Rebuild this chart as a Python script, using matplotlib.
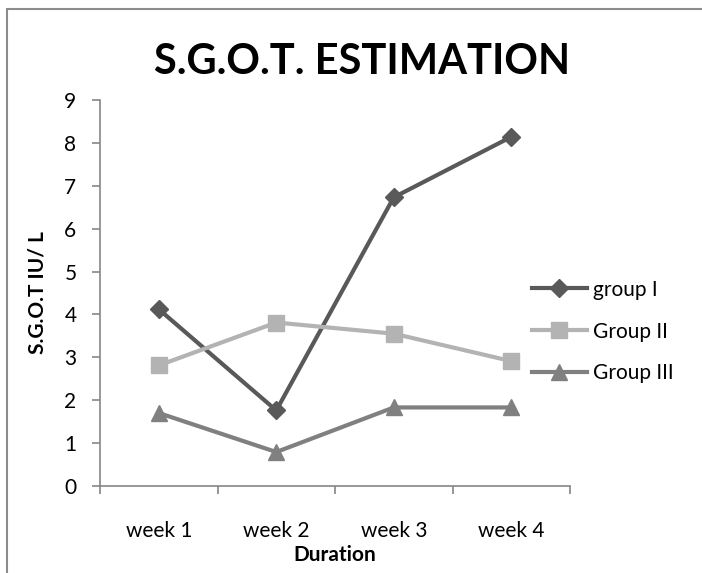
import matplotlib.pyplot as plt
from matplotlib.patches import Rectangle

plt.rcParams.update({"font.family": ["Lato", "DejaVu Sans"], "font.size": 15})

weeks = ["week 1", "week 2", "week 3", "week 4"]
group_1 = [4.12, 1.76, 6.73, 8.14]
group_2 = [2.81, 3.81, 3.55, 2.91]
group_3 = [1.70, 0.79, 1.83, 1.83]

fig = plt.figure(figsize=(7.02, 5.73), dpi=100)
ax = fig.add_axes([0.1425, 0.152, 0.6695, 0.6735])

# outer chart border
fig.patches.append(Rectangle((7 / 702, -0.1), 1.1, 1.1 - 9 / 573, transform=fig.transFigure,
                             fill=False, ec="#8c8c8c", lw=1.5))

x = [i + 0.5 for i in range(len(weeks))]
ax.plot(x, group_1, "-D", color="#595959", lw=3, ms=9, label="group I")
ax.plot(x, group_2, "-s", color="#b3b3b3", lw=3, ms=11, label="Group II")
ax.plot(x, group_3, "-^", color="#808080", lw=3, ms=12, label="Group III")

ax.set_xlim(0, 4)
ax.set_ylim(0, 9)
ax.set_yticks(range(10))
ax.set_xticks(range(5))
ax.set_xticklabels([])
ax.set_xticks(x, minor=True)
ax.set_xticklabels(weeks, minor=True)
ax.tick_params(axis="x", which="minor", length=0, pad=25)
ax.tick_params(axis="x", which="major", length=6, color="#868686", width=1.2)
ax.tick_params(axis="y", length=6, color="#868686", width=1.2, pad=11)

for s in ["top", "right"]:
    ax.spines[s].set_visible(False)
for s in ["left", "bottom"]:
    ax.spines[s].set_color("#868686")
    ax.spines[s].set_linewidth(1.2)

ax.set_xlabel("Duration", fontweight="bold", fontsize=15, labelpad=3)
ax.set_ylabel("S.G.O.T IU/ L", fontweight="bold", fontsize=15, labelpad=12)
fig.text(0.516, 0.892, "S.G.O.T. ESTIMATION", ha="center", va="center",
         fontsize=30, fontweight="bold")

ax.legend(loc="center left", bbox_to_anchor=(0.88, 0.4), frameon=False,
          handlelength=2.6, labelspacing=1.05, handletextpad=0.3, fontsize=15)

fig.savefig("out.png", dpi=100)
